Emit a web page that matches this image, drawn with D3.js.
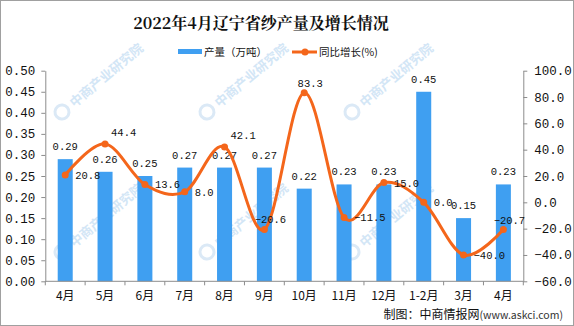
<!DOCTYPE html>
<html><head><meta charset="utf-8">
<script src="https://cdn.jsdelivr.net/npm/d3@7"></script>
<style>body{margin:0;background:#fff}svg{display:block}</style>
</head><body>
<script>
const title = "2022年4月辽宁省纱产量及增长情况";
const categories = ["4月","5月","6月","7月","8月","9月","10月","11月","12月","1-2月","3月","4月"];
const production = [0.29,0.26,0.25,0.27,0.27,0.27,0.22,0.23,0.23,0.45,0.15,0.23];
const growth = [20.8,44.4,13.6,8.0,42.1,-20.6,83.3,-11.5,15.0,0.0,-40.0,-20.7];
const growthLabelPlace = ["r","ra","r","r","ra","a","a","r","r","r","r","a"];
const leftTicks = [0,0.05,0.10,0.15,0.20,0.25,0.30,0.35,0.40,0.45,0.50];
const rightTicks = [-60,-40,-20,0,20,40,60,80,100];
const seriesNames = ["产量（万吨）","同比增长(%)"];
const footerMain = "制图：中商情报网", footerSite = "(www.askci.com)";
const watermark = "中商产业研究院";

const W=574,H=326, L=45.3, R=523.3, T=70.7, B=281.3;
const barColor="#3f9ff1", lineColor="#f4661b", axisColor="#8c8c8c";
const mono="'Liberation Mono', monospace", cjk="'Noto Sans CJK SC', sans-serif";

const svg=d3.select("body").append("svg").attr("width",W).attr("height",H);
svg.append("rect").attr("x",0.5).attr("y",0.5).attr("width",W-1).attr("height",H-1).attr("fill","#fff").attr("stroke","#a0a0a0");

// watermarks
const wm=svg.append("g").attr("fill","#d3e6f6").attr("font-family",cjk).attr("font-size",13).attr("font-weight","bold");
[[62,112],[207,112],[352,112],[62,252],[207,252],[352,252]].forEach(([px,py])=>{
  const g=wm.append("g").attr("transform",`translate(${px},${py}) rotate(-40)`);
  g.append("circle").attr("r",7).attr("fill","none").attr("stroke","#dbe9f6").attr("stroke-width",3);
  g.append("text").attr("x",12).attr("y",5).text(watermark);
});

const x=d3.scaleBand().domain(d3.range(categories.length)).range([L,R]).padding(0);
const barW=x.bandwidth()*0.377;
const yL=d3.scaleLinear().domain([0,0.5]).range([B,T]);
const yR=d3.scaleLinear().domain([-60,100]).range([B,T]);
const cx=i=>x(i)+x.bandwidth()/2;

// bars
svg.append("g").selectAll("rect").data(production).join("rect")
  .attr("x",(d,i)=>cx(i)-barW/2).attr("width",barW)
  .attr("y",d=>yL(d)).attr("height",d=>B-yL(d)).attr("fill",barColor);

// axes
const la=svg.append("g").attr("transform",`translate(${L},0)`)
  .call(d3.axisLeft(yL).tickValues(leftTicks).tickFormat(d3.format(".2f")).tickSize(4).tickSizeOuter(0).tickPadding(6));
const ra=svg.append("g").attr("transform",`translate(${R},0)`)
  .call(d3.axisRight(yR).tickValues(rightTicks).tickFormat(d3.format(".1f")).tickSize(4).tickSizeOuter(0).tickPadding(7));
[la,ra].forEach(a=>{a.selectAll("path,line").attr("stroke",axisColor);
  a.selectAll("text").attr("font-family",mono).attr("font-size",12.5).attr("fill","#111");});

const xa=svg.append("g");
xa.append("line").attr("x1",L).attr("x2",R).attr("y1",B).attr("y2",B).attr("stroke",axisColor);
xa.selectAll("line.t").data(d3.range(categories.length+1)).join("line").attr("class","t")
  .attr("x1",i=>L+i*x.step()).attr("x2",i=>L+i*x.step()).attr("y1",B).attr("y2",B+4).attr("stroke",axisColor);
xa.selectAll("text").data(categories).join("text")
  .attr("x",(d,i)=>cx(i)).attr("y",299.5).attr("text-anchor","middle")
  .attr("font-family",cjk).attr("font-size",12).attr("fill","#111").text(d=>d);

// bar labels
svg.append("g").selectAll("text").data(production).join("text")
  .attr("x",(d,i)=>cx(i)).attr("y",d=>yL(d)-9).attr("text-anchor","middle")
  .attr("font-family",mono).attr("font-size",10.5).attr("fill","#111").text(d=>d3.format(".2f")(d));

// line
const line=d3.line().x((d,i)=>cx(i)).y(d=>yR(d)).curve(d3.curveCardinal.tension(0));
svg.append("path").datum(growth).attr("d",line).attr("fill","none").attr("stroke",lineColor).attr("stroke-width",3);
svg.append("g").selectAll("circle").data(growth).join("circle")
  .attr("cx",(d,i)=>cx(i)).attr("cy",d=>yR(d)).attr("r",3.5).attr("fill",lineColor);

// growth labels
const off={r:[10,4,"start"],ra:[6,-8,"start"],a:[6,-6,"middle"]};
svg.append("g").selectAll("text").data(growth).join("text")
  .attr("x",(d,i)=>cx(i)+off[growthLabelPlace[i]][0])
  .attr("y",(d,i)=>yR(d)+off[growthLabelPlace[i]][1])
  .attr("text-anchor",(d,i)=>off[growthLabelPlace[i]][2])
  .attr("font-family",mono).attr("font-size",10.5).attr("fill","#111").text(d=>d3.format(".1f")(d));

// title
svg.append("text").attr("x",261).attr("y",29).attr("text-anchor","middle")
  .attr("font-family","'Noto Serif CJK SC','Noto Sans CJK SC',serif").attr("font-weight","bold").attr("font-size",16).attr("fill","#111").text(title);

// legend
const lg=svg.append("g");
lg.append("rect").attr("x",178).attr("y",49).attr("width",24).attr("height",5).attr("fill",barColor);
lg.append("text").attr("x",204).attr("y",56).attr("font-family",cjk).attr("font-size",10.5).attr("fill","#111").text(seriesNames[0]);
lg.append("line").attr("x1",292).attr("x2",317).attr("y1",52).attr("y2",52).attr("stroke",lineColor).attr("stroke-width",3);
lg.append("circle").attr("cx",305).attr("cy",52).attr("r",3.5).attr("fill",lineColor);
lg.append("text").attr("x",319).attr("y",56).attr("font-family",cjk).attr("font-size",10.5).attr("fill","#111").text(seriesNames[1]);

// footer
const ft=svg.append("text").attr("x",563).attr("y",319).attr("text-anchor","end").attr("font-family",cjk).attr("fill","#111");
ft.append("tspan").attr("font-size",12).text(footerMain);
ft.append("tspan").attr("font-size",10.5).attr("fill","#333").text(footerSite);
</script>
</body></html>
